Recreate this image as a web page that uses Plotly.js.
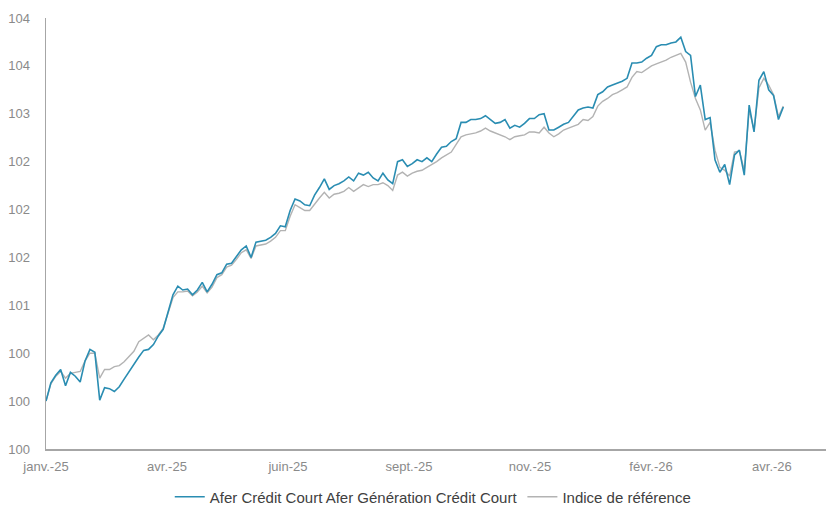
<!DOCTYPE html>
<html>
<head>
<meta charset="utf-8">
<script src="https://cdn.plot.ly/plotly-3.0.1.min.js"></script>
<style>
  html, body { margin: 0; padding: 0; background: #ffffff; }
  #chart { width: 830px; height: 508px; }
</style>
</head>
<body>
<div id="chart"></div>
<script>
// Observation dates: every 3 calendar days from the series start
var START_DATE = '2025-01-31';
var STEP_DAYS = 3;

// Afer Crédit Court Afer Génération Crédit Court (base 100)
var fundValues = [
  100.00,100.19,100.27,100.33,100.16,100.30,100.26,100.20,100.42,100.54,
  100.51,100.01,100.14,100.13,100.10,100.15,100.23,100.31,100.38,100.46,
  100.53,100.54,100.59,100.68,100.75,100.93,101.11,101.20,101.16,101.17,
  101.11,101.16,101.24,101.14,101.22,101.32,101.34,101.43,101.44,101.51,
  101.58,101.62,101.50,101.66,101.67,101.68,101.71,101.75,101.83,101.82,
  101.99,102.11,102.09,102.05,102.04,102.15,102.23,102.32,102.21,102.25,
  102.27,102.30,102.34,102.30,102.38,102.36,102.39,102.33,102.30,102.38,
  102.31,102.27,102.50,102.52,102.45,102.48,102.52,102.50,102.54,102.50,
  102.58,102.65,102.66,102.71,102.74,102.91,102.91,102.94,102.94,102.95,
  102.98,102.94,102.90,102.91,102.94,102.85,102.88,102.86,102.90,102.95,
  102.95,102.99,103.00,102.83,102.83,102.86,102.89,102.91,102.98,103.04,
  103.06,103.07,103.06,103.20,103.23,103.28,103.30,103.32,103.34,103.37,
  103.53,103.53,103.54,103.58,103.61,103.70,103.72,103.72,103.74,103.75,
  103.80,103.65,103.61,103.18,103.30,102.94,102.96,102.52,102.39,102.47,
  102.26,102.57,102.62,102.36,103.09,102.81,103.35,103.44,103.25,103.19,
  102.94,103.07
];

// Indice de référence (base 100)
var benchValues = [
  100.00,100.18,100.26,100.31,100.24,100.29,100.30,100.31,100.42,100.50,
  100.50,100.24,100.33,100.33,100.36,100.37,100.41,100.46,100.52,100.62,
  100.66,100.69,100.64,100.69,100.76,100.92,101.08,101.14,101.14,101.15,
  101.10,101.14,101.20,101.13,101.19,101.29,101.32,101.40,101.42,101.48,
  101.55,101.58,101.49,101.62,101.63,101.64,101.67,101.71,101.78,101.78,
  101.93,102.05,102.02,101.99,101.99,102.06,102.12,102.18,102.12,102.16,
  102.17,102.19,102.23,102.19,102.23,102.26,102.24,102.26,102.26,102.28,
  102.25,102.20,102.36,102.39,102.35,102.38,102.40,102.41,102.44,102.47,
  102.50,102.54,102.57,102.60,102.68,102.76,102.78,102.79,102.80,102.82,
  102.85,102.82,102.80,102.78,102.76,102.73,102.76,102.77,102.78,102.81,
  102.81,102.80,102.86,102.80,102.76,102.79,102.83,102.85,102.87,102.89,
  102.94,102.93,102.97,103.08,103.13,103.16,103.20,103.22,103.25,103.28,
  103.38,103.44,103.43,103.47,103.50,103.52,103.54,103.56,103.59,103.61,
  103.63,103.54,103.33,103.16,103.04,102.83,102.91,102.62,102.44,102.41,
  102.35,102.60,102.61,102.41,103.04,102.83,103.27,103.37,103.30,103.20,
  102.97,103.08
];

var seriesNames = ['Afer Crédit Court Afer Génération Crédit Court', 'Indice de référence'];

// X axis ticks
var xTickDates = ['2025-01-31', '2025-04-15 08:00', '2025-06-28 16:00', '2025-09-11',
                  '2025-11-24 09:00', '2026-02-06 17:00', '2026-04-22'];
var xTickLabels = ['janv.-25', 'avr.-25', 'juin-25', 'sept.-25', 'nov.-25', 'févr.-26', 'avr.-26'];
var xRange = ['2025-01-31', '2026-05-25 05:00'];

// Y axis ticks
var yTickValues = [99.5, 100, 100.5, 101, 101.5, 102, 102.5, 103, 103.5, 104];
var yTickLabels = ['100', '100', '100', '101', '102', '102', '102', '103', '104', '104'];
var yRange = [99.5, 104];

var t0 = Date.parse(START_DATE + 'T00:00:00Z');
var dates = fundValues.map(function (_, i) {
  return new Date(t0 + i * STEP_DAYS * 86400000).toISOString().slice(0, 10);
});

var traces = [
  {
    x: dates, y: benchValues, name: seriesNames[1], type: 'scatter', mode: 'lines',
    line: { color: '#b3b3b3', width: 1.4 }
  },
  {
    x: dates, y: fundValues, name: seriesNames[0], type: 'scatter', mode: 'lines',
    line: { color: '#2a8db2', width: 1.6 }
  }
];

var axisFont = { family: 'Liberation Sans, Arial, sans-serif', size: 13, color: '#8a8a8a' };

var layout = {
  width: 830, height: 508,
  margin: { l: 46, r: 4, t: 18, b: 59 },
  paper_bgcolor: '#ffffff', plot_bgcolor: '#ffffff',
  showlegend: true,
  legend: {
    orientation: 'h', xref: 'container', yref: 'container',
    x: 0.522, xanchor: 'center', y: 0.0217, yanchor: 'middle',
    traceorder: 'reversed',
    font: { family: 'Liberation Sans, Arial, sans-serif', size: 15, color: '#404040' },
    itemwidth: 30
  },
  xaxis: {
    type: 'date', range: xRange, automargin: false,
    tickmode: 'array', tickvals: xTickDates, ticktext: xTickLabels,
    showgrid: false, zeroline: false,
    showline: true, linecolor: '#a6a6a6', linewidth: 1.5,
    ticks: '', ticklabelstandoff: 5,
    tickfont: axisFont
  },
  yaxis: {
    range: yRange, automargin: false,
    tickmode: 'array', tickvals: yTickValues, ticktext: yTickLabels,
    showgrid: false, zeroline: false,
    showline: true, linecolor: '#a6a6a6', linewidth: 1.5,
    ticks: '', ticklabelstandoff: 12,
    tickfont: axisFont
  }
};

Plotly.newPlot('chart', traces, layout, { displayModeBar: false, staticPlot: true });
</script>
</body>
</html>
